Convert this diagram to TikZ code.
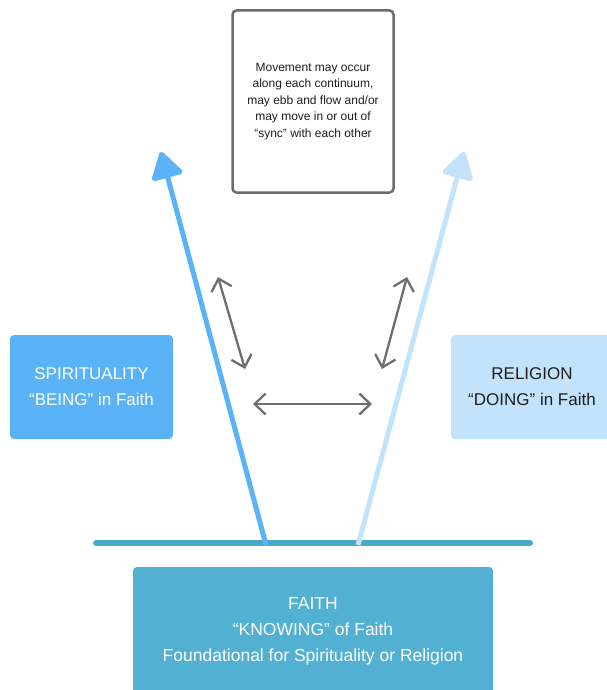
\documentclass[tikz,border=0pt]{standalone}
\usepackage{fontspec}
\setmainfont{Liberation Sans}
\usetikzlibrary{arrows.meta}
\definecolor{spiritblue}{HTML}{5AB3F7}
\definecolor{religionblue}{HTML}{C3E3FC}
\definecolor{faithteal}{HTML}{52B0D3}
\definecolor{baseteal}{HTML}{4AA8CC}
\definecolor{notegray}{HTML}{6B6B6B}
\definecolor{arrowgray}{HTML}{6E6E6E}
\definecolor{darktext}{HTML}{1E1E1E}
\tikzset{
	leghead/.tip = {Triangle[length=29pt, width=34pt, line join=round]},
	syncend/.tip = {Straight Barb[length=11pt, width=21pt]}
}
\begin{document}
\begin{tikzpicture}[x=1pt, y=-1pt,
		every node/.style = {shape=rectangle, rounded corners=4pt, align=center},
		boxlabel/.style = {font=\fontsize{17}{26}\selectfont, minimum height=104pt},
		notebox/.style = {draw=notegray, line width=2.5pt, fill=white,
			minimum width=161pt, minimum height=182pt,
			font=\fontsize{12}{16.5}\selectfont, text=darktext},
		leg/.style = {line width=5pt, -leghead},
		sync/.style = {draw=arrowgray, line width=2.3pt, syncend-syncend}]
	\useasboundingbox (0,0) rectangle (607,690);
	% note at the top
	\node[notebox] (note) at (313,101.5) {Movement may occur\\along each continuum,\\may ebb and flow and/or\\may move in or out of\\“sync” with each other};
	% side boxes
	\node[boxlabel, fill=spiritblue, text=white, minimum width=163pt] (spirit) at (91.5,387) {SPIRITUALITY\\“BEING” in Faith};
	\node[boxlabel, fill=religionblue, text=darktext, minimum width=162pt] (religion) at (532,387) {RELIGION\\“DOING” in Faith};
	\node[boxlabel, fill=faithteal, text=white, minimum width=360pt, minimum height=128pt,
		font=\fontsize{17.5}{26}\selectfont] (faith) at (313,631) {FAITH\\“KNOWING” of Faith\\Foundational for Spirituality or Religion};
	% base line and the two continua
	\coordinate (baseL) at (96,543);
	\coordinate (baseR) at (530,543);
	\coordinate (spiritfoot) at (266,545);
	\coordinate (spirittip) at (161,152);
	\coordinate (religionfoot) at (358,545);
	\coordinate (religiontip) at (464,152);
	\draw[baseteal, line width=6pt, line cap=round] (baseL) -- (baseR);
	\draw[leg, spiritblue] (spiritfoot) -- (spirittip);
	\draw[leg, religionblue] (religionfoot) -- (religiontip);
	% movement arrows
	\coordinate (lefttop) at (218,277);
	\coordinate (leftbot) at (245,369);
	\coordinate (righttop) at (407,277);
	\coordinate (rightbot) at (382,369);
	\coordinate (midL) at (253,404);
	\coordinate (midR) at (372,404);
	\draw[sync] (lefttop) -- (leftbot);
	\draw[sync] (righttop) -- (rightbot);
	\draw[sync] (midL) -- (midR);
\end{tikzpicture}
\end{document}
